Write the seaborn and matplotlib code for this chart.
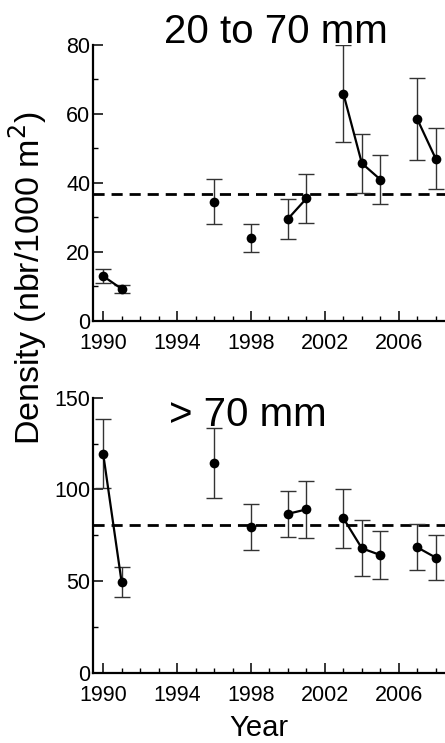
# density of two size classes over the years, with error bars

import numpy as np
import pandas as pd
import seaborn as sns
import matplotlib.pyplot as plt
from matplotlib.ticker import MultipleLocator, FixedLocator

years = [1990, 1991, 1996, 1998, 2000, 2001, 2003, 2004, 2005, 2007, 2008]
# points in the same group are joined by a line
groups = [0, 0, 1, 2, 3, 3, 4, 4, 4, 5, 5]
year_ticks = [1990, 1994, 1998, 2002, 2006]

small_mean = [13.0, 9.3, 34.6, 24.0, 29.6, 35.5, 65.9, 45.7, 41.0, 58.5, 47.0]
small_err = [2.0, 1.2, 6.5, 4.0, 5.8, 7.2, 14.0, 8.6, 7.0, 11.8, 8.8]
small_avg = 36.8

large_mean = [119.5, 49.3, 114.4, 79.4, 86.7, 89.1, 84.3, 67.9, 64.2, 68.4, 62.8]
large_err = [18.7, 8.2, 19.2, 12.5, 12.5, 15.7, 16.0, 15.2, 13.3, 12.5, 12.2]
large_avg = 80.7

sns.set_style("ticks")
plt.rcParams['font.family'] = ['Liberation Sans', 'DejaVu Sans']
plt.rcParams['text.color'] = 'black'
plt.rcParams['xtick.labelcolor'] = 'black'
plt.rcParams['ytick.labelcolor'] = 'black'

fig = plt.figure(figsize=(4.45, 7.43), dpi=100)
ax_top = fig.add_axes([0.209, 0.568, 0.791, 0.3715])
ax_bot = fig.add_axes([0.209, 0.0946, 0.791, 0.370])

def panel(ax, mean, err, avg, ymax, major, minor):
    df = pd.DataFrame({'year': years, 'value': mean, 'err': err, 'group': groups})
    ax.errorbar(df['year'], df['value'], yerr=df['err'], fmt='none',
                ecolor='#333333', elinewidth=1.0, capsize=6, capthick=1.0, zorder=2)
    sns.lineplot(data=df, x='year', y='value', units='group', estimator=None,
                 color='black', linewidth=1.6, marker='o', markersize=7,
                 markeredgewidth=0, ax=ax, zorder=3)
    ax.axhline(avg, color='black', linestyle=(0, (4, 2.5)), linewidth=2.0, zorder=1)
    ax.set_xlim(1989.45, 2008.5)
    ax.set_ylim(0, ymax)
    ax.xaxis.set_major_locator(FixedLocator(year_ticks))
    ax.xaxis.set_minor_locator(MultipleLocator(1))
    ax.yaxis.set_major_locator(MultipleLocator(major))
    ax.yaxis.set_minor_locator(MultipleLocator(minor))
    ax.set_xlabel('')
    ax.set_ylabel('')
    sns.despine(ax=ax)
    for s in ['left', 'bottom']:
        ax.spines[s].set_linewidth(1.6)
        ax.spines[s].set_color('black')
    ax.tick_params(which='major', direction='in', length=7, width=1.1,
                   labelsize=15.5, color='black', labelcolor='black')
    ax.tick_params(which='minor', direction='in', length=3.5, width=1.0, color='black')
    ax.tick_params(axis='x', which='major', pad=9)
    ax.tick_params(axis='y', which='major', pad=2)

panel(ax_top, small_mean, small_err, small_avg, 80, 20, 10)
panel(ax_bot, large_mean, large_err, large_avg, 150, 50, 25)

fig.text(0.62, 0.942, '20 to 70 mm', ha='center', va='baseline', fontsize=29)
fig.text(0.558, 0.426, '> 70 mm', ha='center', va='baseline', fontsize=29)
fig.text(0.582, 0.020, 'Year', ha='center', va='center', fontsize=21)
fig.text(0.062, 0.626, 'Density (nbr/1000 m$^2$)', ha='center', va='center',
         rotation=90, fontsize=24.5)

fig.savefig('out.png', dpi=100)
